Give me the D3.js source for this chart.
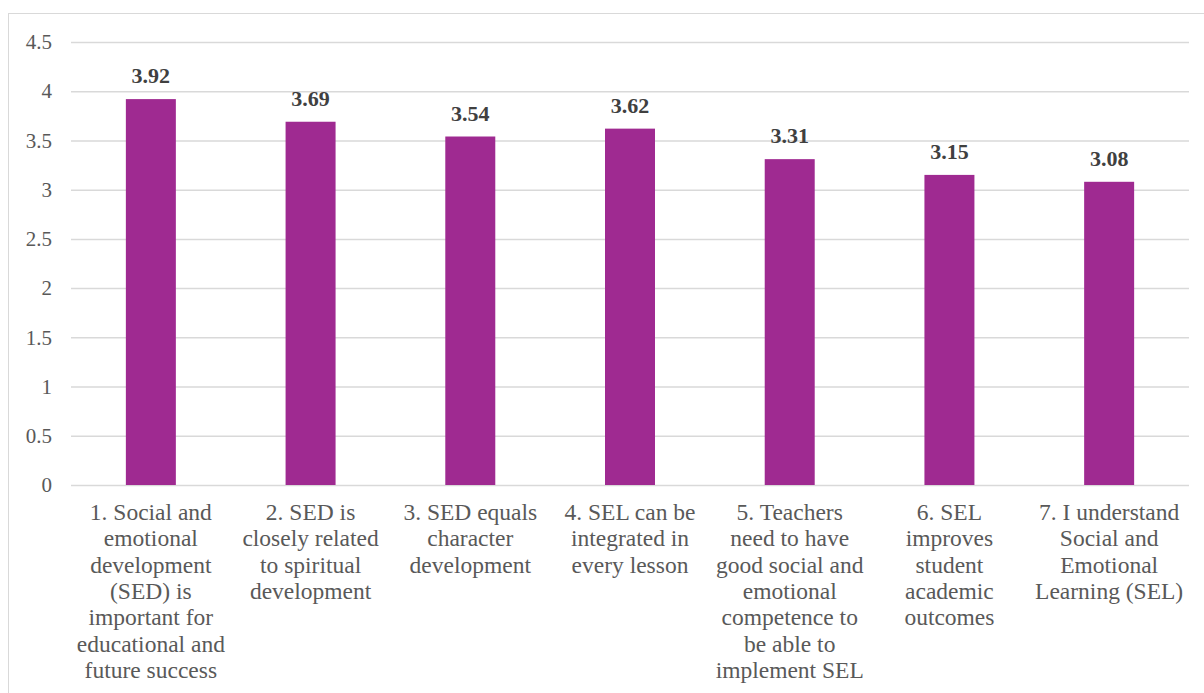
<!DOCTYPE html>
<html>
<head>
<meta charset="utf-8">
<script src="https://cdn.jsdelivr.net/npm/d3@7/dist/d3.min.js"></script>
<style>
  html, body { margin: 0; padding: 0; background: #fff; }
  svg { display: block; }
</style>
</head>
<body>
<svg id="chart" width="1204" height="693"></svg>
<script>
// Survey items (each item pre-split into its display lines)
const categories = [
  ["1. Social and", "emotional", "development", "(SED) is", "important for", "educational and", "future success"],
  ["2. SED is", "closely related", "to spiritual", "development"],
  ["3. SED equals", "character", "development"],
  ["4. SEL can be", "integrated in", "every lesson"],
  ["5. Teachers", "need to have", "good social and", "emotional", "competence to", "be able to", "implement SEL"],
  ["6. SEL", "improves", "student", "academic", "outcomes"],
  ["7. I understand", "Social and", "Emotional", "Learning (SEL)"]
];
// Mean rating per item
const values = [3.92, 3.69, 3.54, 3.62, 3.31, 3.15, 3.08];
// Value-axis ticks
const yTicks = [0, 0.5, 1, 1.5, 2, 2.5, 3, 3.5, 4, 4.5];

const svg = d3.select("#chart");
const margin = { left: 71, right: 1189, top: 42, bottom: 485 };
const fontFamily = "'Liberation Serif', 'Times New Roman', serif";
const textColor = "#595959";

// Chart frame
svg.append("rect")
  .attr("x", 8.5).attr("y", 13.5)
  .attr("width", 1300).attr("height", 800)
  .attr("fill", "none")
  .attr("stroke", "#d9d9d9")
  .attr("stroke-width", 1);

const x = d3.scaleBand()
  .domain(d3.range(categories.length))
  .range([margin.left, margin.right])
  .paddingInner(0.687)
  .paddingOuter(0.3435);

const y = d3.scaleLinear()
  .domain([0, 4.5])
  .range([margin.bottom, margin.top]);

// Gridlines and y labels via axis
const yAxis = d3.axisLeft(y)
  .tickValues(yTicks)
  .tickSize(-(margin.right - margin.left))
  .tickPadding(19)
  .tickFormat(d => String(d));

const gy = svg.append("g")
  .attr("transform", `translate(${margin.left},0)`)
  .call(yAxis);
gy.select(".domain").remove();
gy.selectAll(".tick line")
  .attr("stroke", "#d9d9d9")
  .attr("stroke-width", 1.5);
gy.selectAll(".tick text")
  .attr("fill", textColor)
  .style("font-family", fontFamily)
  .style("font-size", "21px");

// Bars
svg.append("g").selectAll("rect")
  .data(values)
  .join("rect")
  .attr("x", (d, i) => x(i))
  .attr("width", x.bandwidth())
  .attr("y", d => y(d))
  .attr("height", d => y(0) - y(d))
  .attr("fill", "#9f2a91");

// Value labels
svg.append("g").selectAll("text")
  .data(values)
  .join("text")
  .attr("x", (d, i) => x(i) + x.bandwidth() / 2)
  .attr("y", d => y(d) - 16)
  .attr("text-anchor", "middle")
  .attr("fill", "#404040")
  .style("font-family", fontFamily)
  .style("font-size", "22px")
  .style("font-weight", "bold")
  .text(d => d.toFixed(2));

// Category labels
const gx = svg.append("g");
categories.forEach((lines, i) => {
  const t = gx.append("text")
    .attr("x", x(i) + x.bandwidth() / 2)
    .attr("y", 520)
    .attr("text-anchor", "middle")
    .attr("fill", textColor)
    .style("font-family", fontFamily)
    .style("font-size", "23.5px");
  lines.forEach((ln, j) => {
    t.append("tspan")
      .attr("x", x(i) + x.bandwidth() / 2)
      .attr("y", 520 + j * 26.3)
      .text(ln);
  });
});
</script>
</body>
</html>
